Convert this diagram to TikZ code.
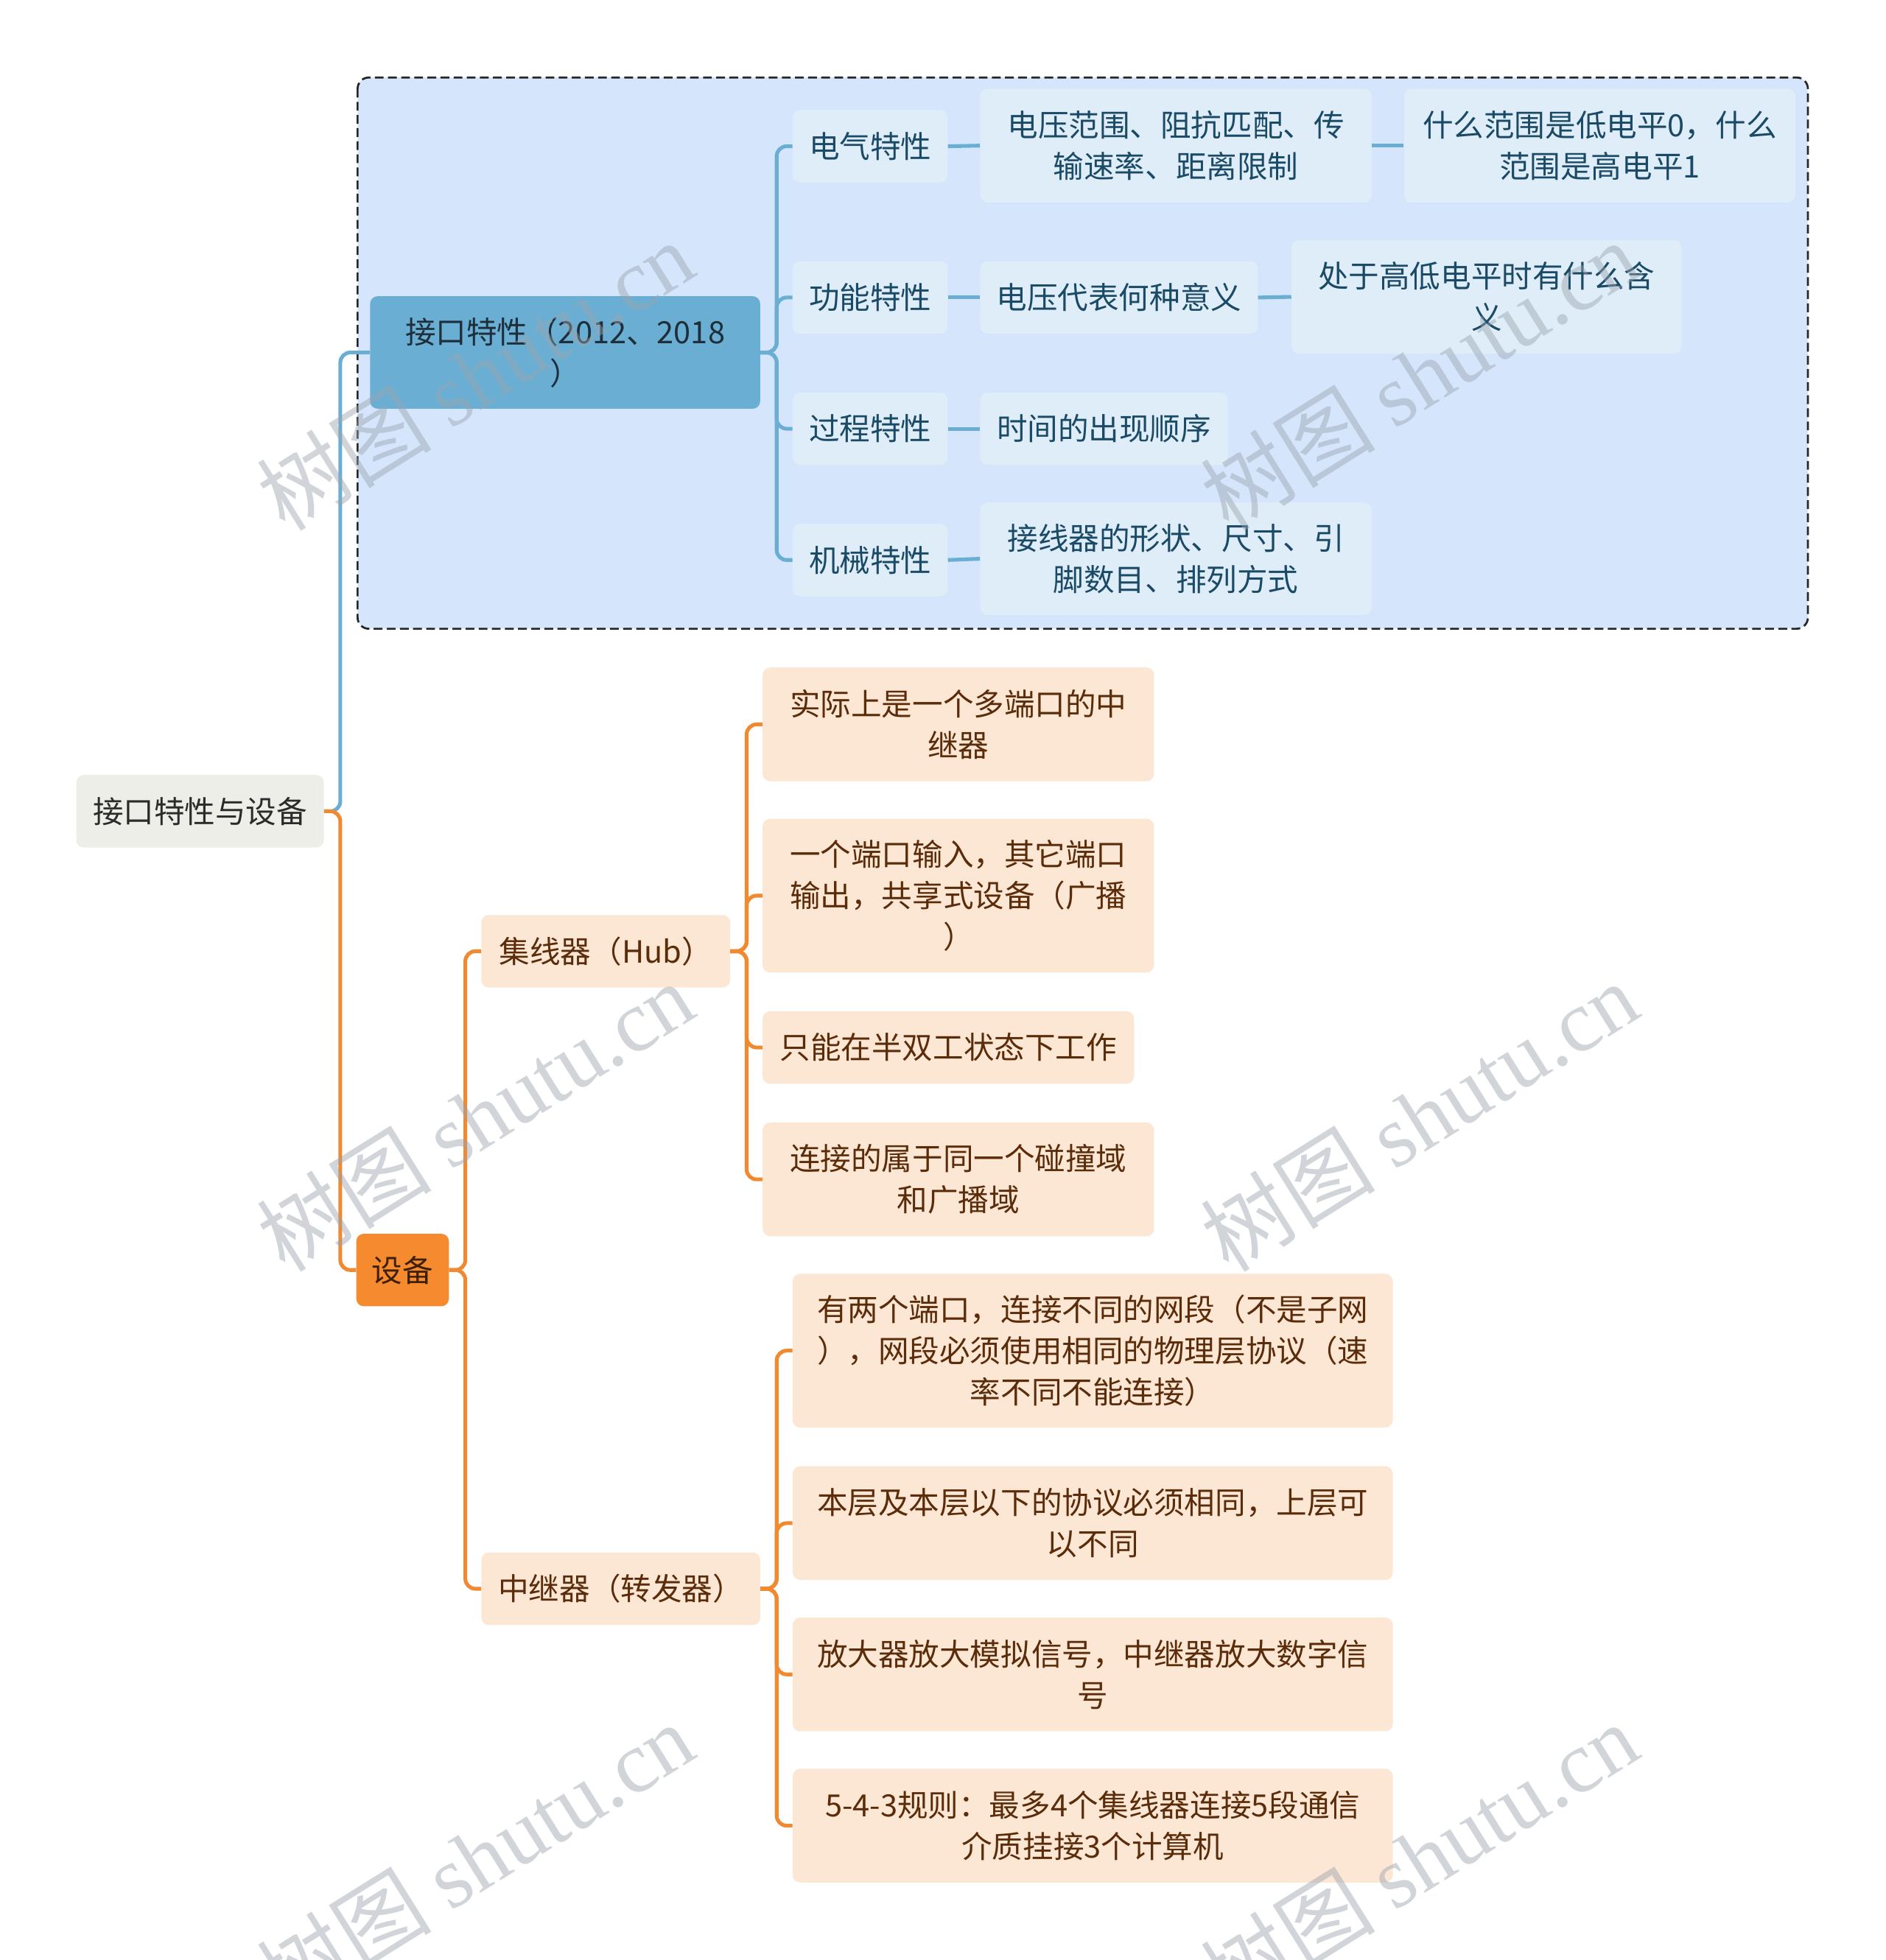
\documentclass[tikz,border=0pt]{standalone}
\usepackage{fontspec}
\setmainfont{Noto Sans CJK SC}
\newfontfamily\wmserif{Liberation Serif}
\newfontfamily\wmcjk{Noto Sans CJK SC}
\definecolor{rootfill}{HTML}{EEEEE8}
\definecolor{roottext}{HTML}{2B2B2B}
\definecolor{bluemain}{HTML}{6AAFD3}
\definecolor{bluetext}{HTML}{1E2E3A}
\definecolor{bluechild}{HTML}{DEEDF7}
\definecolor{bluechildtext}{HTML}{1B4A66}
\definecolor{bluearea}{HTML}{D5E5FB}
\definecolor{orangemain}{HTML}{F58A2E}
\definecolor{orangeline}{HTML}{F0892F}
\definecolor{orangechild}{HTML}{FCE6D4}
\definecolor{orangetext}{HTML}{5B2C0A}
\definecolor{devtext}{HTML}{3D1F05}
\definecolor{wmgray}{HTML}{9AA4AE}
\begin{document}
\begin{tikzpicture}[x=1pt,y=-1pt,
  box/.style={rounded corners=6pt, inner sep=0pt, align=center, font=\fontsize{24.5}{33}\selectfont},
  rootbox/.style={box, fill=rootfill, text=roottext},
  bluebox/.style={box, fill=bluemain, text=bluetext},
  bchild/.style={box, fill=bluechild, text=bluechildtext},
  devbox/.style={box, fill=orangemain, text=devtext},
  ochild/.style={box, fill=orangechild, text=orangetext},
  bline/.style={draw=bluemain, line width=3pt, rounded corners=8pt},
  oline/.style={draw=orangeline, line width=3pt, rounded corners=8pt},
  wm/.style={text=wmgray, opacity=0.45, rotate=32, inner sep=0pt}
]
\useasboundingbox (0,0) rectangle (1508,1568);
\fill[white] (0,0) rectangle (1508,1568);
% group frame
\draw[fill=bluearea, draw=black!85, line width=1.6pt, dash pattern=on 7pt off 3.5pt, rounded corners=9pt] (286,62) rectangle (1446,503);

% nodes
\node[rootbox, minimum width=198pt, minimum height=58pt] (root) at (160,649) {接口特性与设备};
\node[bluebox, minimum width=312pt, minimum height=90pt] (iface) at (452,282) {接口特性（2012、2018\\）};
\node[bchild, minimum width=124pt, minimum height=58pt] (e1) at (696,117) {电气特性};
\node[bchild, minimum width=124pt, minimum height=58pt] (e2) at (696,238) {功能特性};
\node[bchild, minimum width=124pt, minimum height=58pt] (e3) at (696,343) {过程特性};
\node[bchild, minimum width=124pt, minimum height=58pt] (e4) at (696,448) {机械特性};
\node[bchild, minimum width=313pt, minimum height=91pt] (f1) at (940.5,116.5) {电压范围、阻抗匹配、传\\输速率、距离限制};
\node[bchild, minimum width=222pt, minimum height=58pt] (f2) at (895,238) {电压代表何种意义};
\node[bchild, minimum width=198pt, minimum height=58pt] (f3) at (883,343) {时间的出现顺序};
\node[bchild, minimum width=313pt, minimum height=90pt] (f4) at (940.5,447) {接线器的形状、尺寸、引\\脚数目、排列方式};
\node[bchild, minimum width=313pt, minimum height=91pt] (g1) at (1279.5,116.5) {什么范围是低电平0，什么\\范围是高电平1};
\node[bchild, minimum width=312pt, minimum height=91pt] (g2) at (1189,237.5) {处于高低电平时有什么含\\义};

\node[devbox, minimum width=74pt, minimum height=58pt] (dev) at (322,1016) {设备};
\node[ochild, minimum width=199pt, minimum height=58pt] (hub) at (484.5,761) {集线器（Hub）};
\node[ochild, minimum width=223pt, minimum height=58pt] (rep) at (496.5,1271) {中继器（转发器）};
\node[ochild, minimum width=313pt, minimum height=91pt] (h1) at (766.5,579.5) {实际上是一个多端口的中\\继器};
\node[ochild, minimum width=313pt, minimum height=123pt] (h2) at (766.5,716.5) {一个端口输入，其它端口\\输出，共享式设备（广播\\）};
\node[ochild, minimum width=297pt, minimum height=58pt] (h3) at (758.5,838) {只能在半双工状态下工作};
\node[ochild, minimum width=313pt, minimum height=91pt] (h4) at (766.5,943.5) {连接的属于同一个碰撞域\\和广播域};
\node[ochild, minimum width=480pt, minimum height=123pt] (r1) at (874,1080.5) {有两个端口，连接不同的网段（不是子网\\），网段必须使用相同的物理层协议（速\\率不同不能连接）};
\node[ochild, minimum width=480pt, minimum height=91pt] (r2) at (874,1218.5) {本层及本层以下的协议必须相同，上层可\\以不同};
\node[ochild, minimum width=480pt, minimum height=91pt] (r3) at (874,1339.5) {放大器放大模拟信号，中继器放大数字信\\号};
\node[ochild, minimum width=480pt, minimum height=91pt] (r4) at (874,1460.5) {5-4-3规则：最多4个集线器连接5段通信\\介质挂接3个计算机};

% connectors
\draw[bline] (root.east) -- ++(13,0) |- (iface.west);
\draw[oline] (root.east) -- ++(13,0) |- (dev.west);
\foreach \c in {e1,e2,e3,e4} \draw[bline] (iface.east) -- ++(13,0) |- (\c.west);
\draw[bline] (e1.east) -- (f1.west);
\draw[bline] (e2.east) -- (f2.west);
\draw[bline] (e3.east) -- (f3.west);
\draw[bline] (e4.east) -- (f4.west);
\draw[bline] (f1.east) -- (g1.west);
\draw[bline] (f2.east) -- (g2.west);
\foreach \c in {hub,rep} \draw[oline] (dev.east) -- ++(13,0) |- (\c.west);
\foreach \c in {h1,h2,h3,h4} \draw[oline] (hub.east) -- ++(13,0) |- (\c.west);
\foreach \c in {r1,r2,r3,r4} \draw[oline] (rep.east) -- ++(13,0) |- (\c.west);

% watermarks
\foreach \p [count=\i] in {(380,300),(1135,300),(380,893),(1135,893),(380,1486),(1135,1486)}
  \node[wm] (wm\i) at \p {\wmcjk\fontsize{70}{70}\selectfont 树图 \wmserif shutu.cn};
\end{tikzpicture}
\end{document}
